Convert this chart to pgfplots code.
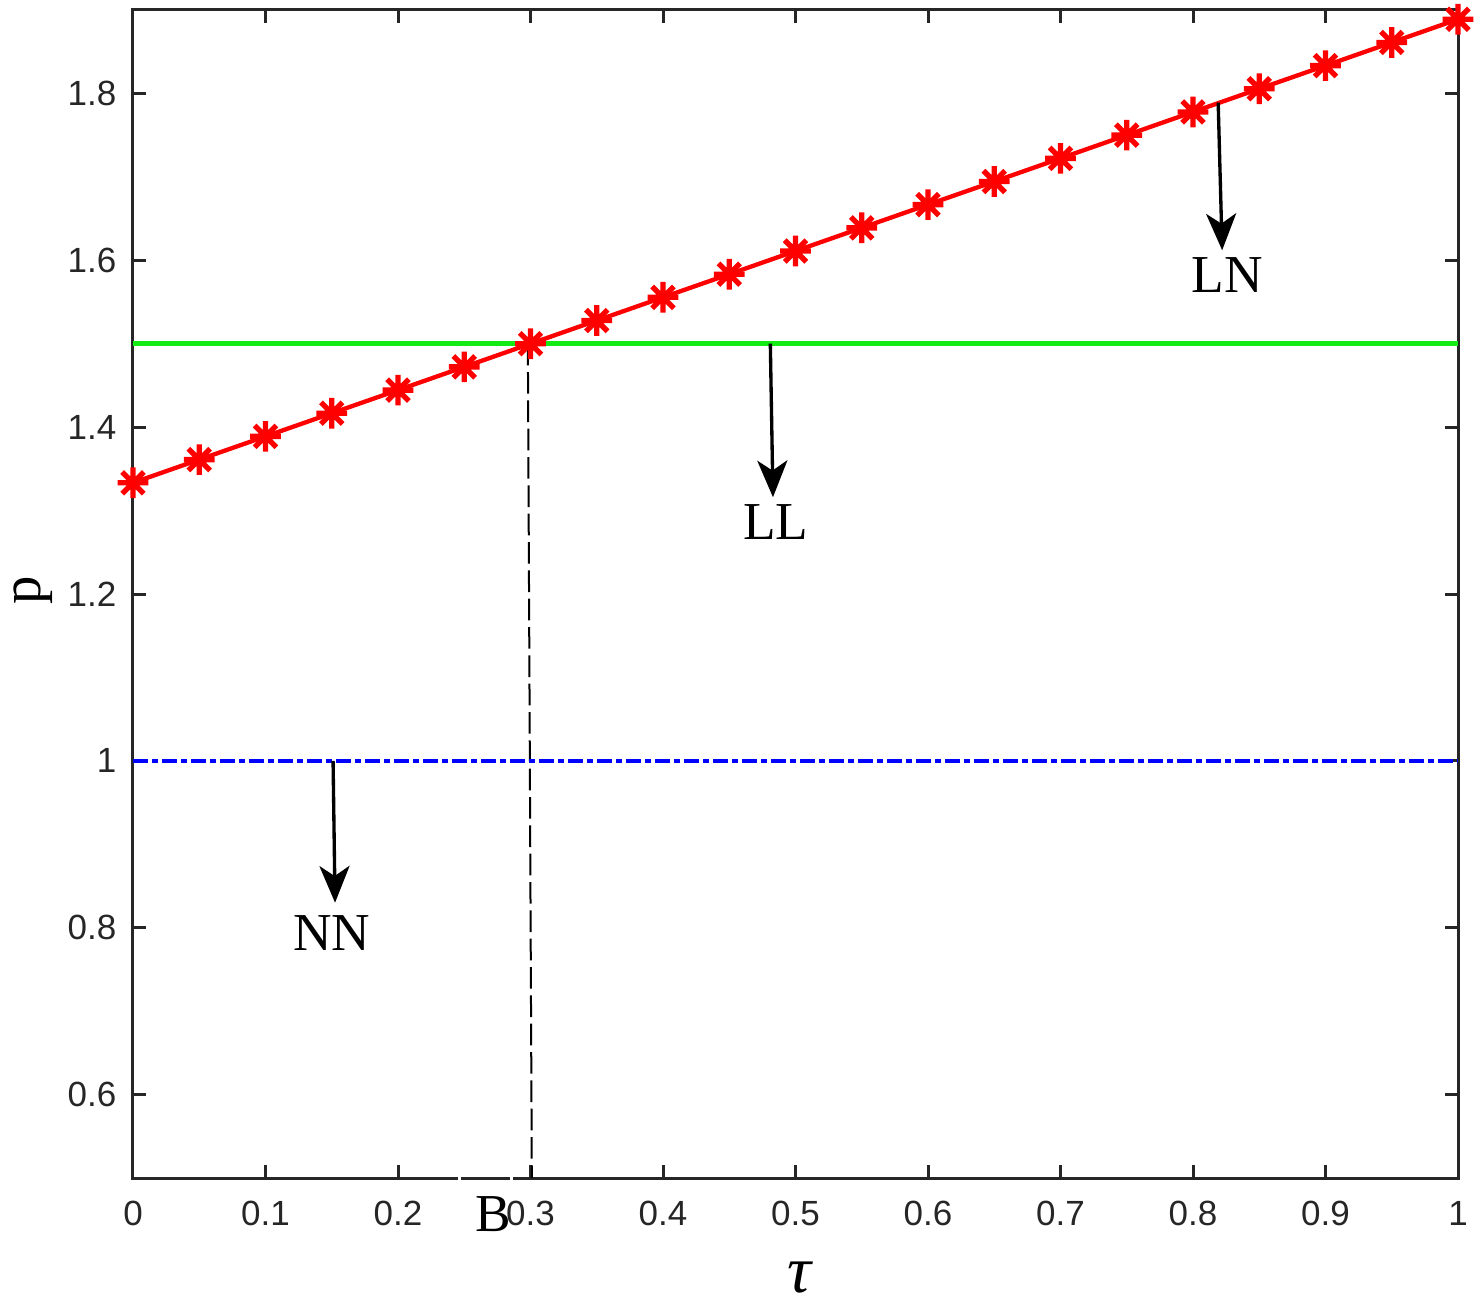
\documentclass[border=0pt]{standalone}
\usepackage{pgfplots}
\pgfplotsset{compat=1.18}
\usepackage{fontspec}
\setmainfont{Liberation Serif}
\newfontfamily\arial{Liberation Sans}
\usetikzlibrary{arrows.meta}
\definecolor{axgray}{RGB}{38,38,38}
\definecolor{mgreen}{RGB}{20,235,20}

\pgfdeclareplotmark{mstar}{%
  \pgfpathmoveto{\pgfqpoint{0pt}{\pgfplotmarksize}}%
  \pgfpathlineto{\pgfqpoint{0pt}{-\pgfplotmarksize}}%
  \pgfpathmoveto{\pgfqpoint{\pgfplotmarksize}{0pt}}%
  \pgfpathlineto{\pgfqpoint{-\pgfplotmarksize}{0pt}}%
  \pgfpathmoveto{\pgfqpoint{0.707\pgfplotmarksize}{0.707\pgfplotmarksize}}%
  \pgfpathlineto{\pgfqpoint{-0.707\pgfplotmarksize}{-0.707\pgfplotmarksize}}%
  \pgfpathmoveto{\pgfqpoint{-0.707\pgfplotmarksize}{0.707\pgfplotmarksize}}%
  \pgfpathlineto{\pgfqpoint{0.707\pgfplotmarksize}{-0.707\pgfplotmarksize}}%
  \pgfusepathqstroke}

\begin{document}
\begin{tikzpicture}
\begin{axis}[
  scale only axis, width=397.5pt, height=350.4pt,
  xmin=0, xmax=1, ymin=0.5, ymax=1.9,
  xtick={0,0.1,...,1}, ytick={0.6,0.8,1,1.2,1.4,1.6,1.8},
  tick align=inside, major tick length=4pt,
  axis line style={axgray, line width=0.9pt},
  every tick/.style={axgray, line width=0.9pt},
  tick label style={font=\arial\fontsize{10.5}{12}\selectfont, text=axgray},
  /pgf/number format/assume math mode=true,
  xticklabel style={yshift=-3.5pt},
  yticklabel style={xshift=-1.5pt},
  clip=false,
  xlabel={\fontsize{20}{22}\selectfont\itshape τ},
  xlabel style={at={(rel axis cs:0.503,0)}, anchor=center, yshift=-30pt},
  ylabel={\fontsize{17}{20}\selectfont p},
  ylabel style={at={(rel axis cs:0,0.503)}, anchor=center, yshift=30pt},
]
\addplot[black, line width=0.6pt, dash pattern=on 6.5pt off 2pt] coordinates {(0.298,1.5) (0.301,0.5)};
\addplot[mgreen, line width=1.5pt] coordinates {(0,1.5) (1,1.5)};
\addplot[blue, line width=1.2pt, dash pattern=on 4.5pt off 1.2pt on 1.8pt off 1.2pt] coordinates {(0,1) (1,1)};
\addplot[red, line width=1.3pt, mark=mstar, mark size=4.6pt, mark options={line width=1.6pt}] coordinates {
(0,1.3333) (0.05,1.3611) (0.1,1.3889) (0.15,1.4167) (0.2,1.4444) (0.25,1.4722)
(0.3,1.5000) (0.35,1.5278) (0.4,1.5556) (0.45,1.5833) (0.5,1.6111) (0.55,1.6389)
(0.6,1.6667) (0.65,1.6944) (0.7,1.7222) (0.75,1.7500) (0.8,1.7778) (0.85,1.8056)
(0.9,1.8333) (0.95,1.8611) (1,1.8889)};
% annotations
\draw[-{Stealth[length=11pt,width=9pt,inset=3pt]}, line width=1pt] (axis cs:0.481,1.5) -- (axis cs:0.483,1.316);
\node[font=\fontsize{16}{18}\selectfont] at (axis cs:0.485,1.286) {LL};
\draw[-{Stealth[length=11pt,width=9pt,inset=3pt]}, line width=1pt] (axis cs:0.819,1.789) -- (axis cs:0.822,1.612);
\node[font=\fontsize{16}{18}\selectfont] at (axis cs:0.826,1.582) {LN};
\draw[-{Stealth[length=11pt,width=9pt,inset=3pt]}, line width=1pt] (axis cs:0.151,1.0) -- (axis cs:0.1525,0.830);
\node[font=\fontsize{16}{18}\selectfont] at (axis cs:0.150,0.794) {NN};
\draw[white, line width=1pt] (axis cs:0.2465,0.49) -- (axis cs:0.2465,0.51);
\draw[white, line width=1pt] (axis cs:0.2855,0.49) -- (axis cs:0.2855,0.51);
\node[font=\fontsize{16}{18}\selectfont] at (axis cs:0.272,0.457) {B};
\end{axis}
\pgfresetboundingbox
\path[use as bounding box] (current axis.south west) ++(-39.9pt,-38.1pt) rectangle ([xshift=6.3pt,yshift=3pt]current axis.north east);
\end{tikzpicture}
\end{document}
